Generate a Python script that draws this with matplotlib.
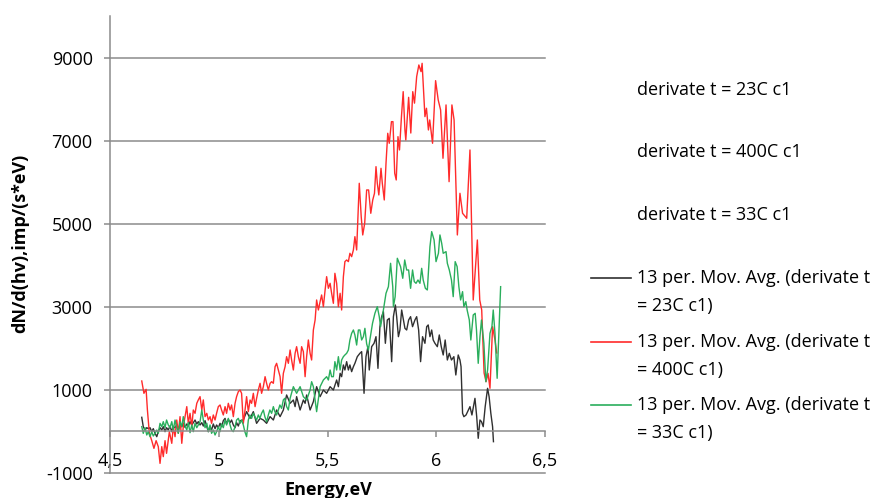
import matplotlib.pyplot as plt
from matplotlib.lines import Line2D

plt.rcParams['font.family'] = ['Open Sans', 'DejaVu Sans']

# values (energy in eV, dN/d(hv) in imp/(s*eV))
black_x = [4.646, 4.653, 4.661, 4.669, 4.676, 4.684, 4.692, 4.699, 4.707, 4.715,
           4.722, 4.730, 4.738, 4.745, 4.753, 4.760, 4.768, 4.776, 4.784, 4.791,
           4.799, 4.807, 4.814, 4.822, 4.830, 4.837, 4.845, 4.853, 4.860, 4.868,
           4.876, 4.883, 4.891, 4.899, 4.906, 4.914, 4.922, 4.929, 4.937, 4.945,
           4.952, 4.960, 4.967, 4.975, 4.983, 4.990, 4.998, 5.006, 5.013, 5.021,
           5.029, 5.036, 5.044, 5.052, 5.059, 5.067, 5.075, 5.082, 5.090, 5.098,
           5.113, 5.128, 5.144, 5.159, 5.174, 5.190, 5.205, 5.220, 5.236, 5.251,
           5.266, 5.282, 5.297, 5.312, 5.328, 5.343, 5.351, 5.358, 5.374, 5.389,
           5.397, 5.404, 5.420, 5.435, 5.450, 5.466, 5.481, 5.496, 5.512, 5.527,
           5.542, 5.550, 5.558, 5.565, 5.573, 5.580, 5.588, 5.596, 5.603, 5.611,
           5.619, 5.626, 5.637, 5.649, 5.657, 5.668, 5.677, 5.686, 5.692, 5.703,
           5.714, 5.723, 5.732, 5.741, 5.749, 5.757, 5.766, 5.775, 5.784, 5.795,
           5.803, 5.812, 5.818, 5.826, 5.833, 5.841, 5.849, 5.856, 5.864, 5.873,
           5.882, 5.891, 5.902, 5.910, 5.919, 5.928, 5.937, 5.948, 5.956, 5.963,
           5.971, 5.979, 5.986, 5.994, 6.005, 6.014, 6.023, 6.032, 6.041, 6.051,
           6.060, 6.070, 6.081, 6.090, 6.101, 6.109, 6.114, 6.121, 6.127, 6.137,
           6.148, 6.155, 6.164, 6.178, 6.186, 6.193, 6.201, 6.208, 6.216, 6.225,
           6.236, 6.243, 6.251, 6.259, 6.263]
black_y = [330, 104, 24, 80, 56, 80, -16, 56, -56, -137,
           -16, 80, 24, 104, -16, 80, 24, 120, -16, 104,
           80, 145, 24, 145, 104, 185, 88, 169, 120, 225,
           145, 201, 265, 169, 225, 145, 201, 120, 249, 104,
           -16, 104, 24, 169, 56, 145, 80, 185, 104, 249,
           305, 169, 281, 201, 265, 145, 80, 201, 120, 249,
           265, 466, 305, 466, 185, 305, 265, 185, 346, 265,
           506, 346, 506, 868, 667, 747, 587, 828, 506, 747,
           667, 868, 506, 707, 1068, 828, 988, 908, 1068, 988,
           1229, 1068, 1390, 1309, 1591, 1470, 1671, 1470, 1591, 1430,
           1550, 1631, 1791, 1872, 1912, 908, 1791, 2032, 1470, 2032,
           2113, 2273, 1510, 2514, 2755, 2876, 2113, 2675, 2715, 1671,
           2755, 3036, 2755, 2273, 2434, 2916, 2675, 2474, 2434, 2675,
           2755, 2514, 2675, 2755, 2434, 1671, 2273, 2113, 2514, 2555,
           2273, 2434, 2193, 2113, 2032, 2314, 2032, 1832, 2193, 1711,
           1872, 1711, 1791, 1350, 1832, 1711, 1550, 426, 345, 386,
           506, 587, 386, 787, 345, -176, 265, 225, 104, 587,
           1029, 828, 426, 104, -257]

red_x = [4.646, 4.656, 4.666, 4.672, 4.681, 4.692, 4.702, 4.712, 4.722, 4.730,
         4.738, 4.745, 4.753, 4.760, 4.773, 4.784, 4.791, 4.799, 4.807, 4.814,
         4.822, 4.830, 4.837, 4.845, 4.853, 4.860, 4.868, 4.876, 4.883, 4.891,
         4.899, 4.906, 4.914, 4.922, 4.929, 4.937, 4.945, 4.952, 4.960, 4.967,
         4.975, 4.983, 4.990, 4.998, 5.006, 5.013, 5.021, 5.029, 5.036, 5.044,
         5.052, 5.059, 5.067, 5.075, 5.082, 5.090, 5.098, 5.105, 5.113, 5.120,
         5.128, 5.136, 5.144, 5.151, 5.159, 5.167, 5.174, 5.182, 5.190, 5.197,
         5.205, 5.213, 5.220, 5.228, 5.236, 5.243, 5.251, 5.259, 5.266, 5.274,
         5.282, 5.289, 5.297, 5.305, 5.312, 5.320, 5.328, 5.335, 5.343, 5.351,
         5.358, 5.366, 5.374, 5.381, 5.389, 5.397, 5.404, 5.412, 5.420, 5.427,
         5.435, 5.443, 5.450, 5.458, 5.466, 5.473, 5.481, 5.489, 5.496, 5.504,
         5.512, 5.519, 5.527, 5.534, 5.542, 5.550, 5.558, 5.565, 5.573, 5.580,
         5.588, 5.596, 5.603, 5.611, 5.619, 5.626, 5.634, 5.646, 5.655, 5.662,
         5.671, 5.680, 5.689, 5.699, 5.708, 5.716, 5.723, 5.729, 5.736, 5.746,
         5.752, 5.761, 5.769, 5.777, 5.784, 5.794, 5.801, 5.809, 5.816, 5.824,
         5.831, 5.840, 5.848, 5.856, 5.860, 5.873, 5.883, 5.892, 5.900, 5.910,
         5.920, 5.930, 5.935, 5.948, 5.955, 5.964, 5.970, 5.983, 5.997, 6.009,
         6.020, 6.031, 6.045, 6.059, 6.072, 6.082, 6.097, 6.109, 6.121, 6.140,
         6.155, 6.170, 6.189, 6.200, 6.209, 6.220, 6.229, 6.238, 6.247, 6.259,
         6.270, 6.278]
red_y = [1205, 908, 1004, 506, -56, -233, -418, -233, -377, -780,
         -377, -618, -233, -538, -16, -297, 105, -137, 265, -56,
         346, -297, 105, 346, 587, 185, 426, 105, 506, 426,
         667, 749, 828, 506, 749, 346, 426, 265, 346, 185,
         386, 265, 426, 587, 627, 506, 386, 587, 426, 667,
         506, 627, 346, 667, 828, 948, 988, 908, 185, 466,
         828, 466, 747, 667, 908, 587, 787, 988, 1149, 908,
         1068, 1309, 1149, 988, 1149, 1188, 1149, 1550, 1631, 1470,
         1309, 908, 1390, 1550, 1791, 1631, 1952, 1711, 1470, 1872,
         2032, 1791, 1631, 2032, 1912, 1309, 1791, 2193, 1872, 1711,
         2434, 2675, 3157, 2916, 3117, 3278, 2996, 3398, 3719, 3439,
         3559, 3318, 3077, 3800, 3559, 2996, 3318, 2916, 3719, 4081,
         4121, 4081, 4282, 4201, 4362, 4683, 4362, 5969, 5165, 4724,
         5005, 5808, 5808, 5246, 5567, 5728, 6370, 5969, 5688, 6330,
         5969, 5567, 6451, 7174, 6933, 7454, 7454, 6210, 6049, 7093,
         6772, 7575, 8177, 7254, 7013, 8040, 7180, 8177, 7900, 8540,
         8820, 8660, 8860, 7575, 7777, 7254, 7495, 6933, 8442, 7977,
         7736, 6572, 7857, 6008, 7857, 7495, 4724, 5728, 5246, 5126,
         6772, 3157, 4603, 3157, 2916, 1398, 1188, 1390, 1029, 2514,
         2193, 1880]

green_x = [4.646, 4.653, 4.661, 4.669, 4.676, 4.684, 4.692, 4.699, 4.707, 4.715,
           4.722, 4.730, 4.738, 4.745, 4.753, 4.760, 4.768, 4.776, 4.784, 4.791,
           4.799, 4.807, 4.814, 4.822, 4.830, 4.837, 4.845, 4.853, 4.860, 4.868,
           4.876, 4.883, 4.891, 4.899, 4.906, 4.914, 4.922, 4.929, 4.937, 4.945,
           4.952, 4.960, 4.967, 4.975, 4.983, 4.990, 4.998, 5.006, 5.013, 5.021,
           5.029, 5.036, 5.044, 5.052, 5.059, 5.067, 5.075, 5.082, 5.090, 5.098,
           5.105, 5.113, 5.120, 5.128, 5.136, 5.143, 5.151, 5.159, 5.166, 5.174,
           5.182, 5.189, 5.197, 5.205, 5.212, 5.220, 5.228, 5.235, 5.243, 5.251,
           5.258, 5.266, 5.274, 5.281, 5.289, 5.297, 5.304, 5.312, 5.320, 5.328,
           5.343, 5.358, 5.374, 5.389, 5.404, 5.420, 5.427, 5.435, 5.443, 5.450,
           5.466, 5.481, 5.496, 5.504, 5.512, 5.519, 5.527, 5.534, 5.542, 5.550,
           5.558, 5.565, 5.573, 5.580, 5.588, 5.596, 5.603, 5.611, 5.619, 5.626,
           5.634, 5.642, 5.649, 5.657, 5.665, 5.672, 5.680, 5.688, 5.695, 5.707,
           5.718, 5.729, 5.738, 5.744, 5.757, 5.769, 5.780, 5.790, 5.800, 5.803,
           5.811, 5.821, 5.830, 5.836, 5.846, 5.855, 5.864, 5.873, 5.882, 5.891,
           5.899, 5.907, 5.916, 5.925, 5.933, 5.940, 5.950, 5.959, 5.971, 5.979,
           5.990, 5.999, 6.010, 6.017, 6.025, 6.032, 6.045, 6.051, 6.060, 6.070,
           6.078, 6.087, 6.096, 6.104, 6.112, 6.121, 6.127, 6.136, 6.142, 6.152,
           6.159, 6.170, 6.179, 6.185, 6.193, 6.201, 6.208, 6.219, 6.228, 6.236,
           6.247, 6.256, 6.262, 6.270, 6.280, 6.289, 6.296]
green_y = [104, -56, 80, -96, -16, -137, -16, -121, -56, 24,
           -56, 185, 104, 225, 80, 265, 145, 80, 225, 24,
           265, 80, -56, 225, 104, 346, 120, 24, 201, -40,
           145, -16, 185, 80, 145, 225, 506, 265, 80, 185,
           -16, 145, -56, 24, -96, -16, 104, -16, 169, 80,
           265, 145, 305, 145, 24, -16, 104, 265, 305, 185,
           265, 145, -16, -137, 265, 386, 305, 426, 346, 265,
           386, 305, 426, 506, 346, 225, 386, 506, 426, 587,
           466, 386, 506, 627, 546, 749, 788, 587, 506, 787,
           1068, 908, 1068, 828, 747, 988, 1188, 1068, 747, 466,
           1068, 1229, 1309, 1229, 1470, 1309, 1309, 1671, 1470, 1791,
           1470, 1711, 1791, 1832, 1872, 1952, 2193, 2354, 2434, 2314,
           2072, 2434, 2434, 2193, 2273, 2474, 2100, 1950, 2200, 2595,
           2836, 2996, 2755, 2514, 2916, 3318, 3478, 4041, 3478, 2996,
           3237, 4162, 4041, 3960, 3680, 4121, 3880, 3880, 3438, 3880,
           3599, 3559, 3639, 3559, 3920, 3639, 3438, 3398, 4442, 4804,
           4603, 4081, 4282, 4724, 4523, 4282, 4322, 4041, 3880, 3639,
           3237, 4081, 3960, 3478, 3157, 3358, 2996, 3117, 2916, 2675,
           2193, 2796, 2836, 2434, 1631, 2273, 2675, 2113, 1188, 1470,
           2354, 2514, 2916, 2354, 1270, 2514, 3478]

x_ticks = [4.5, 5, 5.5, 6, 6.5]
x_tick_labels = ['4,5', '5', '5,5', '6', '6,5']
y_ticks = [-1000, 1000, 3000, 5000, 7000, 9000]

legend_lines = [
    ['derivate t = 23C c1'],
    ['derivate t = 400C c1'],
    ['derivate t = 33C c1'],
    ['13 per. Mov. Avg. (derivate t', '= 23C c1)'],
    ['13 per. Mov. Avg. (derivate t', '= 400C c1)'],
    ['13 per. Mov. Avg. (derivate t', '= 33C c1)'],
]

BLACK = '#303030'
RED = '#ff2b2b'
GREEN = '#2aae5c'
GRID = '#8c8c8c'
legend_colors = [None, None, None, BLACK, RED, GREEN]

W, H = 882, 498
fig = plt.figure(figsize=(W / 100, H / 100), dpi=100)
ax = fig.add_axes([110 / W, 25.5 / H, 435 / W, 456.5 / H])

ax.plot(black_x, black_y, color=BLACK, lw=1.0)
ax.plot(red_x, red_y, color=RED, lw=1.0)
ax.plot(green_x, green_y, color=GREEN, lw=1.0)

ax.set_xlim(4.5, 6.5)
ax.set_ylim(-1000, 10000)
ax.set_xticks(x_ticks)
ax.set_xticklabels(x_tick_labels)
ax.set_yticks(y_ticks)
ax.set_yticklabels([str(v) for v in y_ticks])

ax.yaxis.grid(True, color=GRID, lw=1.1)
for gl in ax.get_ygridlines():
    gl.set_clip_on(False)
ax.set_axisbelow(True)

for s in ['top', 'right']:
    ax.spines[s].set_visible(False)
ax.spines['left'].set_color(GRID)
ax.spines['left'].set_linewidth(1.1)
ax.spines['bottom'].set_position(('data', 0))
ax.spines['bottom'].set_color(GRID)
ax.spines['bottom'].set_linewidth(1.1)

ax.tick_params(axis='x', direction='out', length=4.5, width=1.1, color=GRID,
               pad=10.5, labelsize=13, labelcolor='black')
ax.tick_params(axis='y', direction='out', length=4, width=1.1, color=GRID,
               pad=8.5, labelsize=13, labelcolor='black')

fig.text(20 / W, 1 - 243 / H, 'dN/d(hv),imp/(s*eV)', rotation=90,
         ha='center', va='center', fontsize=13, fontweight='bold')
fig.text(328 / W, 3 / H, 'Energy,eV', ha='center', va='baseline',
         fontsize=13, fontweight='bold')

# legend on the right, drawn by hand to keep Excel's spacing
legend_y = [90, 152, 215, 278, 342, 405]
for lines, col, yp in zip(legend_lines, legend_colors, legend_y):
    for i, t in enumerate(lines):
        fig.text(637 / W, 1 - (yp + 28 * i) / H, t, ha='left', va='center',
                 fontsize=13)
    if col is not None:
        fig.add_artist(Line2D([591 / W, 631 / W], [1 - yp / H, 1 - yp / H],
                              color=col, lw=1.2, transform=fig.transFigure))

fig.savefig('out.png', dpi=100)
